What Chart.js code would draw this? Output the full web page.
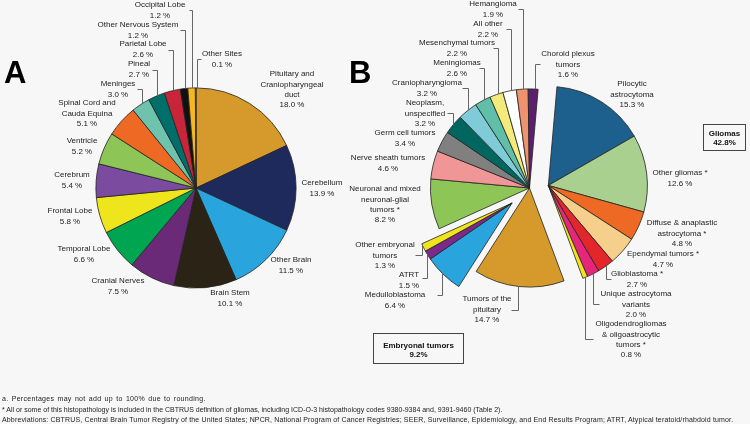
<!DOCTYPE html>
<html lang="en">
<head>
<meta charset="UTF-8">
<title>Brain and CNS tumors by site and histology</title>
<script src="https://cdn.jsdelivr.net/npm/chart.js@4"></script>
<style>
    body {
        margin: 0;
        background: #f7f7f7;
        font-family: Arial, "Liberation Sans", sans-serif;
    }
    #wrap {
        position: relative;
        width: 750px;
        height: 424px;
        overflow: hidden;
    }
    canvas {
        position: absolute;
        left: 0;
        top: 0;
    }
    .panel {
        position: absolute;
        font-weight: bold;
        font-size: 31px;
        line-height: 1;
        color: #000;
    }
    .box {
        position: absolute;
        border: 1.3px solid #444;
        font-weight: bold;
        font-size: 8px;
        line-height: 9px;
        text-align: center;
        color: #111;
        box-sizing: border-box;
    }
    .notes {
        position: absolute;
        left: 2px;
        top: 394px;
        font-size: 7px;
        line-height: 10.5px;
        color: #222;
        white-space: nowrap;
    }
    .notes .n1 { letter-spacing: 0.3px; word-spacing: 1px; }
    .notes .n3 { letter-spacing: 0.15px; }
</style>
</head>
<body>
<div id="wrap">
    <canvas id="siteChart" width="750" height="424"></canvas>
    <canvas id="histChart" width="750" height="424"></canvas>
    <div class="panel" style="left:4px; top:57px;">A</div>
    <div class="panel" style="left:349px; top:57px;">B</div>
    <div class="box" id="gliomaBox" style="left:703px; top:124px; width:43px; height:27px; padding-top:4px;"></div>
    <div class="box" id="embryoBox" style="left:373px; top:333px; width:91px; height:31px; padding-top:7px;"></div>
    <div class="notes">
        <div class="n1">a. Percentages may not add up to 100% due to rounding.</div>
        <div>* All or some of this histopathology is included in the CBTRUS definition of gliomas, including ICD-O-3 histopathology codes 9380-9384 and, 9391-9460 (Table 2).</div>
        <div class="n3">Abbreviations: CBTRUS, Central Brain Tumor Registry of the United States; NPCR, National Program of Cancer Registries; SEER, Surveillance, Epidemiology, and End Results Program; ATRT, Atypical teratoid/rhabdoid tumor.</div>
    </div>
</div>

<script>
    // --- data: A, tumor site ---
    const siteLabels = [
        'Pituitary and\nCraniopharyngeal\nduct', 'Cerebellum', 'Other Brain', 'Brain Stem',
        'Cranial Nerves', 'Temporal Lobe', 'Frontal Lobe', 'Cerebrum', 'Ventricle',
        'Spinal Cord and\nCauda Equina', 'Meninges', 'Pineal', 'Parietal Lobe',
        'Other Nervous System', 'Occipital Lobe', 'Other Sites'
    ];
    const siteValues = [18.0, 13.9, 11.5, 10.1, 7.5, 6.6, 5.8, 5.4, 5.2, 5.1, 3.0, 2.7, 2.6, 1.2, 1.2, 0.1];

    // --- data: B, histology ---
    const histLabels = [
        'Pilocytic\nastrocytoma', 'Other gliomas *', 'Diffuse & anaplastic\nastrocytoma *',
        'Ependymal tumors *', 'Glioblastoma *', 'Unique astrocytoma\nvariants',
        'Oligodendrogliomas\n& oligoastrocytic\ntumors *', 'Tumors of the\npituitary',
        'Medulloblastoma', 'ATRT', 'Other embryonal\ntumors',
        'Neuronal and mixed\nneuronal-glial\ntumors *', 'Nerve sheath tumors', 'Germ cell tumors',
        'Neoplasm,\nunspecified', 'Craniopharyngioma', 'Meningiomas', 'Mesenchymal tumors',
        'All other', 'Hemangioma', 'Choroid plexus\ntumors'
    ];
    const histValues = [15.3, 12.6, 4.8, 4.7, 2.7, 2.0, 0.8, 14.7, 6.4, 1.5, 1.3, 8.2, 4.6, 3.4, 3.2, 3.2, 2.6, 2.2, 2.2, 1.9, 1.6];

    // group totals shown in the boxes
    const groupNames = ['Gliomas', 'Embryonal tumors'];
    const groupTotals = [42.8, 9.2];

    // --- styling ---
    const siteColors = ['#d59a2b', '#1f2a5c', '#2aa4dd', '#2b2416', '#6a2a78', '#00a551', '#efe51d',
        '#7a4b9f', '#8dc556', '#ee6a24', '#6ec3ad', '#006e69', '#c9253a', '#111111', '#f6b91c', '#ffffff'];
    const histColors = ['#1d5f8d', '#a9d08e', '#ee6a24', '#f5cf8b', '#e2262b', '#e5267b', '#f1e31d',
        '#d59a2b', '#2aa4dd', '#7b2a8a', '#f1e31d', '#8dc556', '#f09696', '#808080', '#00665f',
        '#80cbd8', '#5fbfa8', '#f2ea7a', '#ffffff', '#f0926b', '#5b1f6b'];

    // label placement [x, y, leader]; leader = [vertical x, elbow y, end x]
    const siteLayout = [
        [292, 74], [322, 183], [291, 260], [230, 293], [118, 281], [84, 249], [70, 211], [72, 175],
        [82, 141], [87, 103],
        [118, 84, [142, 89, 137]], [139, 64, [157, 70, 152]], [143, 44, [173, 50, 168]],
        [138, 25, [185, 30, 180]], [160, 5, [192, 10, 189]], [222, 54, [197, 59, 201]]
    ];
    const histLayout = [
        [632, 84], [680, 173], [682, 223], [663, 254],
        [637, 274, [606, 279, 611]], [636, 294, [593, 304, 599]], [631, 324, [585, 339, 593]],
        [487, 299, [518, 310, 511]], [395, 295, [442, 295, 437]], [409, 275, [427, 278, 422]],
        [385, 245, [422, 255, 415]], [385, 189], [388, 158], [405, 133],
        [425, 103, [453, 113, 447]], [427, 83, [468, 88, 462]], [457, 63, [484, 68, 479]],
        [457, 43, [498, 48, 493]], [488, 24, [511, 29, 506]], [493, 4, [523, 9, 518]],
        [568, 54, [535, 64, 540]]
    ];
    // exploded groups of slices (index range) and how far they move out
    const histGroups = [
        { from: 0, to: 6, dist: 19 },
        { from: 8, to: 10, dist: 23 }
    ];

    function makeLabelPlugin(layout, groups) {
        return {
            id: 'sliceLabels',
            afterDatasetsUpdate(chart) {
                const arcs = chart.getDatasetMeta(0).data;
                groups.forEach(g => {
                    const mid = (arcs[g.from].startAngle + arcs[g.to].endAngle) / 2;
                    const dx = Math.cos(mid) * g.dist;
                    const dy = Math.sin(mid) * g.dist;
                    for (let i = g.from; i <= g.to; i++) {
                        arcs[i].x += dx;
                        arcs[i].y += dy;
                    }
                });
            },
            afterDatasetsDraw(chart) {
                const ctx = chart.ctx;
                const arcs = chart.getDatasetMeta(0).data;
                const values = chart.data.datasets[0].data;
                ctx.save();
                ctx.font = '8px Arial, "Liberation Sans", sans-serif';
                ctx.fillStyle = '#222';
                ctx.strokeStyle = '#666';
                ctx.lineWidth = 1;
                ctx.textAlign = 'center';
                ctx.textBaseline = 'middle';
                layout.forEach((pos, i) => {
                    const lines = chart.data.labels[i].split('\n');
                    lines.push(values[i].toFixed(1) + ' %');
                    lines.forEach((t, k) => ctx.fillText(t, pos[0], pos[1] + k * 10.3));
                    if (pos[2]) {
                        const arc = arcs[i];
                        const [lx, ly, ex] = pos[2];
                        const off = lx - arc.x;
                        const h = Math.sqrt(Math.max(arc.outerRadius * arc.outerRadius - off * off, 0));
                        const edgeY = ly < arc.y ? arc.y - h : arc.y + h;
                        ctx.beginPath();
                        ctx.moveTo(Math.round(ex) + 0.5, Math.round(ly) + 0.5);
                        ctx.lineTo(Math.round(lx) + 0.5, Math.round(ly) + 0.5);
                        ctx.lineTo(Math.round(lx) + 0.5, edgeY);
                        ctx.stroke();
                    }
                });
                ctx.restore();
            }
        };
    }

    function pieOptions(padding, rotation) {
        return {
            responsive: false,
            animation: false,
            events: [],
            rotation: rotation,
            layout: { padding: padding },
            plugins: {
                legend: { display: false },
                tooltip: { enabled: false }
            }
        };
    }

    new Chart(document.getElementById('siteChart'), {
        type: 'pie',
        data: {
            labels: siteLabels,
            datasets: [{
                data: siteValues,
                backgroundColor: siteColors,
                borderColor: '#222',
                borderWidth: 0.8,
                hoverOffset: 0
            }]
        },
        options: pieOptions({ left: 95.5, top: 87.5, right: 453.5, bottom: 135.5 }, 0),
        plugins: [makeLabelPlugin(siteLayout, [])]
    });

    new Chart(document.getElementById('histChart'), {
        type: 'pie',
        data: {
            labels: histLabels,
            datasets: [{
                data: histValues,
                backgroundColor: histColors,
                borderColor: '#222',
                borderWidth: 0.8,
                hoverOffset: 0
            }]
        },
        options: pieOptions({ left: 430, top: 88.5, right: 121, bottom: 136.5 }, 5),
        plugins: [makeLabelPlugin(histLayout, histGroups)]
    });

    document.getElementById('gliomaBox').innerHTML = groupNames[0] + '<br>' + groupTotals[0].toFixed(1) + '%';
    document.getElementById('embryoBox').innerHTML = groupNames[1] + '<br>' + groupTotals[1].toFixed(1) + '%';
</script>
</body>
</html>
